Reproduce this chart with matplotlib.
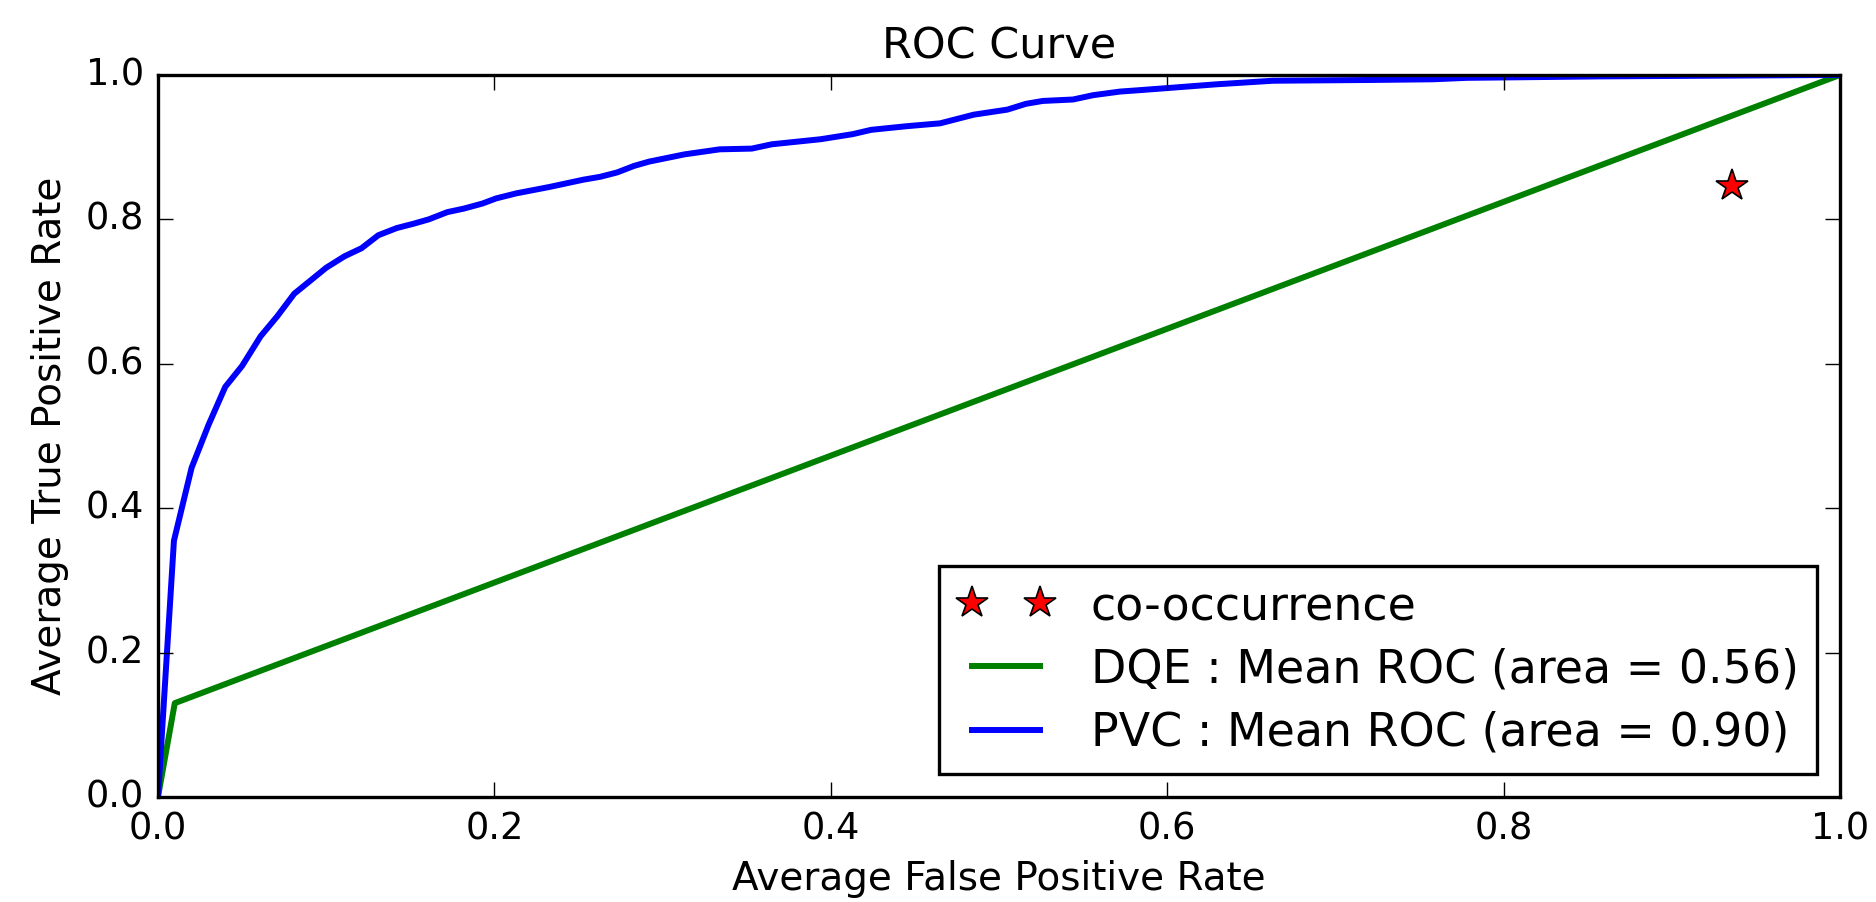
import matplotlib
matplotlib.use('Agg')
import matplotlib.pyplot as plt

plt.style.use('classic')

# Mean ROC curves
pvc_fpr = [0.0, 0.0095, 0.020, 0.030, 0.040, 0.050, 0.061, 0.071, 0.081, 0.090,
           0.100, 0.111, 0.121, 0.131, 0.142, 0.152, 0.161, 0.172, 0.182, 0.193,
           0.201, 0.213, 0.233, 0.253, 0.263, 0.273, 0.283, 0.292, 0.313, 0.334,
           0.353, 0.365, 0.394, 0.413, 0.424, 0.445, 0.465, 0.485, 0.505, 0.516,
           0.526, 0.544, 0.556, 0.572, 0.584, 0.601, 0.629, 0.663, 0.719, 0.758,
           0.778, 0.818, 0.857, 1.0]
pvc_tpr = [0.0, 0.355, 0.456, 0.515, 0.568, 0.597, 0.638, 0.666, 0.697, 0.714,
           0.733, 0.749, 0.760, 0.778, 0.788, 0.794, 0.800, 0.810, 0.815, 0.822,
           0.829, 0.836, 0.845, 0.855, 0.859, 0.865, 0.874, 0.880, 0.890, 0.897,
           0.898, 0.904, 0.911, 0.918, 0.924, 0.929, 0.933, 0.945, 0.952, 0.960,
           0.964, 0.966, 0.972, 0.977, 0.979, 0.982, 0.987, 0.992, 0.993, 0.994,
           0.996, 0.997, 0.998, 1.0]

dqe_fpr = [0.0, 0.010, 1.0]
dqe_tpr = [0.0, 0.130, 1.0]

cooc_fpr = [0.936]
cooc_tpr = [0.846]

labels = ['co-occurrence',
          'DQE : Mean ROC (area = 0.56)',
          'PVC : Mean ROC (area = 0.90)']

fig = plt.figure(figsize=(18.76, 9.02), dpi=100, facecolor='white')
ax = fig.add_axes([0.0842, 0.1164, 0.8966, 0.8005])

ax.plot(cooc_fpr, cooc_tpr, '*', color='red', markeredgecolor='black',
        markersize=24, markeredgewidth=1.2, label=labels[0])
ax.plot(dqe_fpr, dqe_tpr, color='green', lw=4.3, label=labels[1])
ax.plot(pvc_fpr, pvc_tpr, color='blue', lw=4.3, label=labels[2])

ax.set_xlim(0, 1)
ax.set_ylim(0, 1)
ax.set_xticks([0.0, 0.2, 0.4, 0.6, 0.8, 1.0])
ax.set_yticks([0.0, 0.2, 0.4, 0.6, 0.8, 1.0])
ax.tick_params(labelsize=26.5, length=11, width=1, pad=10)
for s in ax.spines.values():
    s.set_linewidth(2.4)

ax.set_xlabel('Average False Positive Rate', fontsize=28, labelpad=9)
ax.set_ylabel('Average True Positive Rate', fontsize=28, labelpad=12)
ax.set_title('ROC Curve', fontsize=31, pad=12)

leg = ax.legend(loc='lower right', fontsize=33, numpoints=2,
                handlelength=2.1, handletextpad=0.8, borderpad=0.4,
                labelspacing=0.4, borderaxespad=0.5)
leg.get_frame().set_linewidth(2.4)

fig.savefig('out.png', dpi=100, facecolor='white')
